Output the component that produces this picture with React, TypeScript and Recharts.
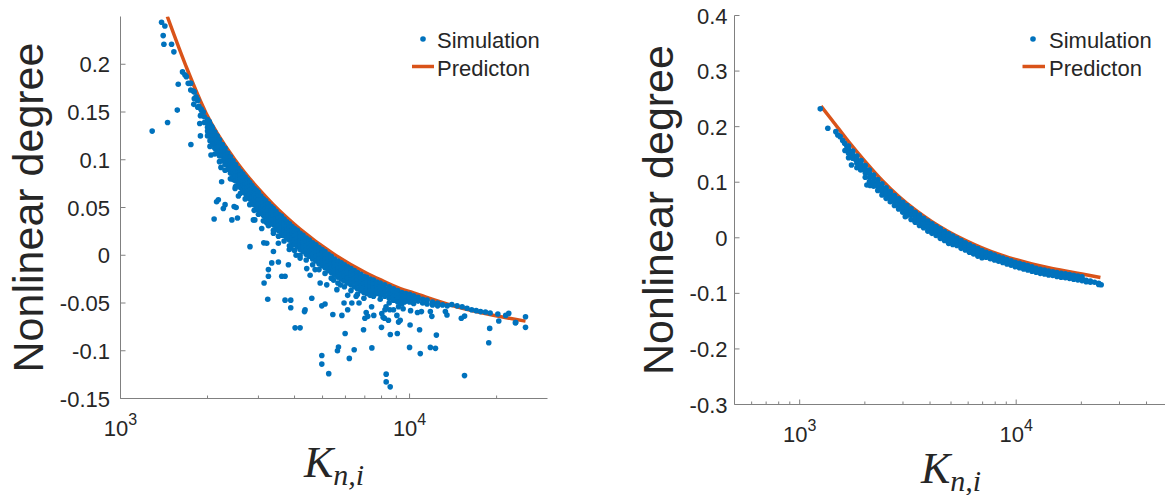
import React from 'react';
import { ComposedChart, Scatter, Line, XAxis, YAxis } from 'recharts';

const BLUE = '#0072BD';
const ORANGE = '#D95319';
const AXIS = '#808080';
const TEXT = '#262626';
const SANS = '"Liberation Sans", Arial, Helvetica, sans-serif';
const SERIF = '"Liberation Serif", "Times New Roman", serif';
const DOT_R = 2.8;

// ---------- left panel ----------
const leftXDomain = [1000, 30000];
const leftYDomain = [-0.15, 0.25];
const leftXMajor = [1000, 10000];
const leftXMinor = [2000, 3000, 4000, 5000, 6000, 7000, 8000, 9000, 20000];
const leftYTicks = [-0.15, -0.1, -0.05, 0, 0.05, 0.1, 0.15, 0.2];

const leftPredK = [1452, 1700, 1975, 2489, 3000, 3380, 4180, 5460, 7110, 7915, 9290, 10330, 13470, 17580, 25180];
const leftPredV = [0.25, 0.195, 0.149, 0.1, 0.0696, 0.0529, 0.0274, 0.0013, -0.0188, -0.0256, -0.035, -0.0395, -0.051, -0.06, -0.069];

// scattered simulation points (K, value)
const leftScatter: [number, number][] = [
  [1287, 0.13], [1387, 0.244], [1424, 0.24], [1405, 0.23], [1413, 0.221], [1455, 0.139], [1502, 0.221],
  [1530, 0.213], [1572, 0.152], [1584, 0.179], [1639, 0.192], [1670, 0.189], [1690, 0.187], [1715, 0.18],
  [1743, 0.18], [1752, 0.116], [1785, 0.172], [1793, 0.158], [1826, 0.166], [1847, 0.163], [1868, 0.156],
  [1880, 0.138], [1890, 0.146], [1890, 0.125], [1905, 0.152], [1934, 0.15], [2010, 0.128], [2028, 0.14],
  [2056, 0.105], [2066, 0.135], [2108, 0.038], [2123, 0.124], [2150, 0.056], [2180, 0.119], [2180, 0.058],
  [2208, 0.114], [2226, 0.092], [2238, 0.077], [2268, 0.049], [2270, 0.109], [2300, 0.053], [2333, 0.103],
  [2396, 0.098], [2428, 0.037], [2460, 0.093], [2460, 0.079], [2472, 0.051], [2492, 0.07], [2512, 0.05],
  [2526, 0.086], [2539, 0.039], [2558, 0.062], [2594, 0.076], [2697, 0.069], [2732, 0.062], [2805, 0.009],
  [2882, 0.055], [2882, 0.037], [2915, 0.037], [2961, 0.048], [3040, 0.044], [3080, 0.028], [3131, 0.013],
  [3138, -0.029], [3205, 0.034], [3205, 0.0125], [3231, -0.046], [3248, -0.015], [3248, -0.022], [3336, -0.008],
  [3381, 0.023], [3381, 0.004], [3517, -0.007], [3517, 0.0125], [3612, 0.021], [3612, -0.022], [3709, -0.022],
  [3709, -0.047], [3809, -0.01], [3836, 0.006], [3881, -0.047], [3881, -0.055], [3890, 0.009], [4018, -0.076],
  [4050, 0.0], [4181, -0.003], [4181, -0.076], [4330, -0.059], [4350, -0.057], [4408, -0.014], [4528, -0.021],
  [4589, -0.045], [4713, -0.015], [4905, -0.029], [4970, -0.053], [4970, -0.105], [4970, -0.114], [5100, -0.051],
  [5170, -0.031], [5252, -0.124], [5427, -0.062], [5458, -0.026], [5605, -0.036], [5630, -0.1], [5676, -0.096],
  [5762, -0.031], [5833, -0.063], [5933, -0.05], [5985, -0.082], [6108, -0.042], [6108, -0.057], [6188, -0.108],
  [6313, -0.05], [6432, -0.099], [6533, -0.043], [6685, -0.05], [6930, -0.078], [7005, -0.066], [7079, -0.06],
  [7170, -0.064], [7390, -0.054], [7405, -0.097], [7520, -0.063], [7995, -0.0755], [8014, -0.061], [8100, -0.065],
  [8130, -0.0364], [8190, -0.066], [8220, -0.057], [8290, -0.054], [8300, -0.1245], [8300, -0.1326], [8450, -0.068],
  [8540, -0.057], [8570, -0.1378], [8576, -0.083], [8640, -0.04], [8800, -0.057], [9040, -0.063], [9070, -0.082],
  [9160, -0.054], [9160, -0.07], [9280, -0.068], [9400, -0.042], [9500, -0.056], [9600, -0.049], [9998, -0.0965],
  [10040, -0.073], [10080, -0.058], [10650, -0.06], [10830, -0.078], [10890, -0.103], [10990, -0.059], [11800, -0.059],
  [11800, -0.0965], [11940, -0.064], [12290, -0.0975], [12380, -0.0836], [13300, -0.059], [13470, -0.0626],
  [15100, -0.066], [15490, -0.126], [15500, -0.0637], [18790, -0.0916], [18930, -0.0766], [20350, -0.0689],
  [22030, -0.0609], [23230, -0.0706], [25180, -0.0644], [25180, -0.0755],
];

// dense band just under the prediction: K, values read at that K
const leftBand: [number, number[]][] = [
  [1750, [0.18, 0.173]], [1800, [0.171, 0.164]], [1850, [0.162, 0.155]], [1900, [0.153, 0.147]], [1950, [0.145, 0.139]],
  [2000, [0.142, 0.138, 0.134, 0.13, 0.125]], [2040, [0.137, 0.133, 0.129, 0.125, 0.12, 0.114]],
  [2080, [0.133, 0.129, 0.125, 0.121, 0.116]], [2120, [0.129, 0.125, 0.121, 0.117, 0.112, 0.106]],
  [2160, [0.125, 0.121, 0.117, 0.113, 0.108]], [2200, [0.121, 0.117, 0.113, 0.109, 0.104, 0.098]],
  [2250, [0.116, 0.112, 0.108, 0.104, 0.099]], [2300, [0.112, 0.108, 0.104, 0.1, 0.095, 0.089]],
  [2350, [0.107, 0.103, 0.099, 0.095, 0.09]], [2400, [0.103, 0.099, 0.095, 0.091, 0.086, 0.08]],
  [2450, [0.099, 0.095, 0.091, 0.087, 0.082]], [2500, [0.095, 0.091, 0.087, 0.083, 0.078, 0.072]],
  [2550, [0.091, 0.087, 0.083, 0.079, 0.074]], [2600, [0.088, 0.084, 0.08, 0.076, 0.071, 0.065]],
  [2650, [0.085, 0.081, 0.077, 0.073, 0.068]], [2700, [0.082, 0.078, 0.074, 0.07, 0.065, 0.059]],
  [2750, [0.079, 0.075, 0.071, 0.067, 0.062]], [2800, [0.076, 0.072, 0.068, 0.064, 0.059, 0.053]],
  [2850, [0.073, 0.069, 0.065, 0.061, 0.056]], [2900, [0.07, 0.066, 0.062, 0.058, 0.053, 0.047]],
  [2950, [0.068, 0.064, 0.06, 0.056, 0.051]], [3000, [0.066, 0.062, 0.058, 0.054, 0.049, 0.043]],
  [3060, [0.062, 0.058, 0.054, 0.05, 0.045]], [3120, [0.059, 0.055, 0.051, 0.047, 0.042, 0.036]],
  [3180, [0.057, 0.053, 0.049, 0.045, 0.04]], [3250, [0.054, 0.05, 0.046, 0.042, 0.037, 0.031]],
  [3320, [0.051, 0.047, 0.043, 0.039, 0.034]], [3380, [0.049, 0.045, 0.041, 0.037, 0.032, 0.026]],
  [3450, [0.046, 0.042, 0.038, 0.034, 0.029]], [3520, [0.043, 0.039, 0.035, 0.031, 0.026, 0.02]],
  [3600, [0.041, 0.037, 0.033, 0.029, 0.024]], [3680, [0.038, 0.034, 0.03, 0.026, 0.021, 0.015]],
  [3760, [0.035, 0.031, 0.027, 0.023, 0.018]], [3840, [0.033, 0.029, 0.025, 0.021, 0.016, 0.01]],
  [3920, [0.03, 0.026, 0.022, 0.018, 0.013]], [4000, [0.028, 0.024, 0.02, 0.016, 0.011, 0.005]],
  [4090, [0.026, 0.022, 0.018, 0.014, 0.009]], [4180, [0.023, 0.019, 0.015, 0.011, 0.006, 0.0]],
  [4280, [0.021, 0.017, 0.013, 0.009, 0.004]], [4390, [0.018, 0.014, 0.01, 0.006, 0.001, -0.005]],
  [4500, [0.016, 0.012, 0.008, 0.004, -0.001]], [4620, [0.013, 0.009, 0.005, 0.001, -0.004, -0.01]],
  [4740, [0.011, 0.007, 0.003, -0.001, -0.006]], [4860, [0.008, 0.004, 0.0, -0.004, -0.009, -0.015]],
  [4980, [0.006, 0.002, -0.002, -0.006, -0.011]], [5100, [0.004, 0.0, -0.004, -0.008, -0.013, -0.019]],
  [5230, [0.001, -0.003, -0.007, -0.011, -0.016]], [5360, [-0.001, -0.005, -0.009, -0.013, -0.018, -0.024]],
  [5500, [-0.004, -0.008, -0.012, -0.016, -0.021]], [5650, [-0.006, -0.01, -0.014, -0.018, -0.023, -0.029]],
  [5800, [-0.008, -0.012, -0.016, -0.02, -0.025]], [5950, [-0.01, -0.014, -0.018, -0.022, -0.027, -0.033]],
  [6100, [-0.012, -0.016, -0.02, -0.024, -0.029]], [6270, [-0.014, -0.018, -0.022, -0.026, -0.031, -0.037]],
  [6440, [-0.016, -0.02, -0.024, -0.028, -0.033]], [6600, [-0.018, -0.022, -0.026, -0.03, -0.035, -0.041]],
  [6780, [-0.02, -0.024, -0.028, -0.032, -0.037]], [6950, [-0.022, -0.026, -0.03, -0.034, -0.039, -0.045]],
  [7110, [-0.023, -0.027, -0.031, -0.035, -0.04]], [7300, [-0.025, -0.029, -0.033, -0.037, -0.042]],
  [7500, [-0.026, -0.03, -0.034, -0.038, -0.043]], [7700, [-0.028, -0.032, -0.036, -0.04]],
  [7915, [-0.029, -0.033, -0.037, -0.041, -0.046]], [8200, [-0.031, -0.035, -0.039, -0.043]],
  [8500, [-0.033, -0.037, -0.041, -0.045, -0.05]], [8800, [-0.035, -0.039, -0.043, -0.047]],
  [9100, [-0.037, -0.041, -0.045, -0.049]], [9400, [-0.039, -0.043, -0.047, -0.051]],
  [9700, [-0.04, -0.044, -0.048]], [10000, [-0.041, -0.045, -0.049]], [10330, [-0.0425, -0.0465, -0.0505]],
  [10700, [-0.044, -0.048]], [11100, [-0.046, -0.05]], [11500, [-0.047, -0.051]], [12000, [-0.049, -0.052]],
  [12500, [-0.05, -0.053]], [13000, [-0.052]], [13500, [-0.053]], [14000, [-0.0515]], [14600, [-0.053]],
  [15200, [-0.054]], [15800, [-0.0555]], [16400, [-0.057]], [17000, [-0.058]], [17600, [-0.059]],
  [18300, [-0.0595]], [19000, [-0.0605]], [20200, [-0.0615]], [21500, [-0.063]], [23300, [-0.0705]],
];

// ---------- right panel ----------
const rightXDomain = [500, 50000];
const rightYDomain = [-0.3, 0.4];
const rightXMajor = [1000, 10000];
const rightXMinor = [600, 700, 800, 900, 2000, 3000, 4000, 5000, 6000, 7000, 8000, 9000, 20000, 30000, 40000];
const rightYTicks = [-0.3, -0.2, -0.1, 0, 0.1, 0.2, 0.3, 0.4];

const rightPredK = [1255, 1409, 1682, 2009, 2399, 2864, 3420, 4083, 4875, 5821, 6950, 8298, 9900, 11830, 14120, 16870, 20140, 24500];
const rightPredV = [0.237, 0.212, 0.173, 0.137, 0.1035, 0.0745, 0.05, 0.029, 0.011, -0.0045, -0.018, -0.0295, -0.039, -0.047, -0.0538, -0.0598, -0.0653, -0.0713];

const rightScatter: [number, number][] = [
  [1245, 0.232], [1349, 0.197], [1469, 0.191], [1500, 0.185], [1539, 0.182], [1580, 0.175], [1613, 0.17],
  [1619, 0.157], [1650, 0.165], [1701, 0.152], [1735, 0.131], [1760, 0.146], [1820, 0.14], [1885, 0.131],
  [1914, 0.122], [2044, 0.095], [2117, 0.094], [3075, 0.038], [3420, 0.029], [24700, -0.0846],
];

const rightBand: [number, number[]][] = [
  [1682, [0.165, 0.159, 0.152, 0.144]], [1758, [0.156, 0.15, 0.143]], [1838, [0.147, 0.141, 0.134, 0.126]],
  [1921, [0.139, 0.133, 0.126]], [2009, [0.13, 0.124, 0.117, 0.109]], [2100, [0.122, 0.116, 0.109, 0.101]],
  [2195, [0.113, 0.107, 0.1, 0.093]], [2295, [0.105, 0.099, 0.092, 0.085]], [2399, [0.097, 0.091, 0.084, 0.077]],
  [2508, [0.09, 0.085, 0.079, 0.071]], [2621, [0.083, 0.078, 0.072, 0.065]], [2740, [0.076, 0.071, 0.065, 0.058]],
  [2864, [0.07, 0.065, 0.059, 0.052]], [2994, [0.064, 0.059, 0.053, 0.046]], [3129, [0.058, 0.053, 0.047, 0.04]],
  [3271, [0.052, 0.047, 0.041, 0.033]], [3420, [0.046, 0.041, 0.035, 0.028]], [3575, [0.041, 0.036, 0.03, 0.022]],
  [3737, [0.035, 0.031, 0.025, 0.018]], [3906, [0.03, 0.025, 0.019, 0.012]], [4083, [0.025, 0.02, 0.014, 0.008]],
  [4268, [0.02, 0.016, 0.01, 0.004]], [4462, [0.016, 0.011, 0.005, -0.001]], [4664, [0.011, 0.007, 0.001, -0.005]],
  [4875, [0.007, 0.002, -0.004, -0.01]], [5096, [0.003, -0.001, -0.006, -0.012]], [5327, [-0.001, -0.005, -0.01, -0.014]],
  [5569, [-0.005, -0.009, -0.014, -0.019]], [5821, [-0.009, -0.013, -0.018, -0.022]],
  [6085, [-0.0125, -0.0165, -0.0215, -0.026]], [6360, [-0.016, -0.02, -0.025, -0.029]],
  [6649, [-0.0195, -0.0235, -0.0285, -0.033]], [6950, [-0.023, -0.027, -0.032, -0.036]],
  [7265, [-0.026, -0.03, -0.035]], [7594, [-0.0285, -0.0325, -0.0375]], [7938, [-0.031, -0.035, -0.04]],
  [8298, [-0.034, -0.038, -0.042]], [8674, [-0.0365, -0.0405, -0.0445]], [9067, [-0.039, -0.043, -0.047]],
  [9478, [-0.0415, -0.0455, -0.0495]], [9900, [-0.044, -0.048, -0.052]], [10350, [-0.046, -0.05, -0.054]],
  [10820, [-0.048, -0.052, -0.056]], [11310, [-0.05, -0.054, -0.058]], [11830, [-0.052, -0.056, -0.06]],
  [12360, [-0.055, -0.059, -0.062]], [12920, [-0.0565, -0.0605, -0.064]], [13510, [-0.058, -0.062, -0.065]],
  [14120, [-0.06, -0.064, -0.067]], [14760, [-0.061, -0.065, -0.068]], [15430, [-0.0625, -0.0665, -0.0695]],
  [16130, [-0.064, -0.068, -0.071]], [16870, [-0.065, -0.069, -0.072]], [17630, [-0.066, -0.07, -0.073]],
  [18430, [-0.0675, -0.0715, -0.0745]], [19270, [-0.069, -0.073, -0.076]], [20140, [-0.07, -0.074, -0.077]],
  [21050, [-0.0765, -0.079]], [22010, [-0.078, -0.08]], [23010, [-0.08]], [24050, [-0.082, -0.084]],
];

const toPts = (list: [number, number][], band: [number, number[]][]) => [
  ...list.map(([k, v]) => ({ k, v })),
  ...band.flatMap(([k, vs]) => vs.map((v) => ({ k, v }))),
];
const leftSim = toPts(leftScatter, leftBand);
const rightSim = toPts(rightScatter, rightBand);
const leftPred = leftPredK.map((k, i) => ({ k, v: leftPredV[i] }));
const rightPred = rightPredK.map((k, i) => ({ k, v: rightPredV[i] }));

// ---------- tick renderers (MATLAB style, ticks point inward) ----------
const bottomTick = (majors: number[]) => (p: any) => {
  const major = majors.includes(p.payload.value);
  return (
    <g>
      <line x1={p.x} y1={p.y} x2={p.x} y2={p.y - (major ? 5 : 3)} stroke={AXIS} />
      {major && (
        <text x={p.x} y={p.y + 37.5} textAnchor="middle" fontFamily={SANS} fontSize={22} fill={TEXT}>
          10
          <tspan dy={-11.5} fontSize={16}>
            {Math.round(Math.log10(p.payload.value))}
          </tspan>
        </text>
      )}
    </g>
  );
};

const topTick = (majors: number[]) => (p: any) => {
  const major = majors.includes(p.payload.value);
  return <line x1={p.x} y1={p.y} x2={p.x} y2={p.y + (major ? 5 : 3)} stroke={AXIS} />;
};

const leftTick = (gap: number) => (p: any) => (
  <g>
    <line x1={p.x} y1={p.y} x2={p.x + 5} y2={p.y} stroke={AXIS} />
    <text x={p.x - gap} y={p.y + 8} textAnchor="end" fontFamily={SANS} fontSize={22} fill={TEXT}>
      {String(p.payload.value)}
    </text>
  </g>
);

const rightTick = (p: any) => <line x1={p.x} y1={p.y} x2={p.x - 5} y2={p.y} stroke={AXIS} />;

const yLabel = (fromRight: number) => (p: any) => {
  const vb = p.viewBox;
  const x = vb.x + vb.width - fromRight;
  const y = vb.y + vb.height / 2;
  return (
    <text x={x} y={y} transform={`rotate(-90 ${x} ${y})`} textAnchor="middle" fontFamily={SANS} fontSize={43} fill={TEXT}>
      Nonlinear degree
    </text>
  );
};

const xLabel = (p: any) => {
  const vb = p.viewBox;
  return (
    <text x={vb.x + vb.width / 2} y={vb.y + 78} textAnchor="middle" fontFamily={SERIF} fontStyle="italic" fontSize={44} fill={TEXT}>
      K
      <tspan fontSize={30} dy={8}>
        n,i
      </tspan>
    </text>
  );
};

const dot = (p: any) => <circle cx={p.cx} cy={p.cy} r={DOT_R} fill={BLUE} />;

interface PanelProps {
  width: number;
  top: number;
  yAxisWidth: number;
  xAxisHeight: number;
  xDomain: number[];
  yDomain: number[];
  xMajor: number[];
  xMinor: number[];
  yTicks: number[];
  labelGap: number;
  yLabelOffset: number;
  sim: { k: number; v: number }[];
  pred: { k: number; v: number }[];
}

function Panel(props: PanelProps) {
  const xTicks = [...props.xMajor, ...props.xMinor].sort((a, b) => a - b);
  return (
    <ComposedChart
      width={props.width}
      height={495}
      margin={{ top: props.top, right: 12.5, bottom: 0, left: 0 }}
    >
      <XAxis
        dataKey="k"
        type="number"
        scale="log"
        domain={props.xDomain}
        allowDataOverflow
        ticks={xTicks}
        interval={0}
        tickSize={0}
        tickMargin={0}
        tickLine={false}
        tick={bottomTick(props.xMajor)}
        height={props.xAxisHeight}
        axisLine={{ stroke: AXIS }}
        label={xLabel}
      />
      <XAxis
        xAxisId="top"
        orientation="top"
        type="number"
        scale="log"
        domain={props.xDomain}
        allowDataOverflow
        ticks={xTicks}
        interval={0}
        tickSize={0}
        tickMargin={0}
        tickLine={false}
        tick={topTick(props.xMajor)}
        height={0}
        axisLine={{ stroke: AXIS }}
      />
      <YAxis
        dataKey="v"
        type="number"
        domain={props.yDomain}
        allowDataOverflow
        ticks={props.yTicks}
        interval={0}
        tickSize={0}
        tickMargin={0}
        tickLine={false}
        tick={leftTick(props.labelGap)}
        width={props.yAxisWidth}
        axisLine={{ stroke: AXIS }}
        label={yLabel(props.yLabelOffset)}
      />
      <YAxis
        yAxisId="right"
        orientation="right"
        type="number"
        domain={props.yDomain}
        allowDataOverflow
        ticks={props.yTicks}
        interval={0}
        tickSize={0}
        tickMargin={0}
        tickLine={false}
        tick={rightTick}
        width={0}
        axisLine={{ stroke: AXIS }}
      />
      <Scatter data={props.sim} shape={dot} isAnimationActive={false} />
      <Line
        data={props.pred}
        dataKey="v"
        type="monotone"
        stroke={ORANGE}
        strokeWidth={3.5}
        dot={false}
        activeDot={false}
        isAnimationActive={false}
      />
    </ComposedChart>
  );
}

function LegendBox({ dotX, lineX1, lineX2, textX }: { dotX: number; lineX1: number; lineX2: number; textX: number }) {
  return (
    <g fontFamily={SANS} fontSize={22} fill={TEXT}>
      <circle cx={dotX} cy={39} r={DOT_R} fill={BLUE} />
      <text x={textX} y={48}>Simulation</text>
      <line x1={lineX1} y1={66.5} x2={lineX2} y2={66.5} stroke={ORANGE} strokeWidth={3.5} />
      <text x={textX} y={76}>Predicton</text>
    </g>
  );
}

export default function App() {
  return (
    <div
      style={{
        position: 'absolute',
        left: 0,
        top: 0,
        width: 1165,
        height: 495,
        overflow: 'hidden',
        background: '#fff',
      }}
    >
      <div style={{ position: 'absolute', left: 0, top: 0 }}>
        <Panel
          width={560}
          top={16.5}
          yAxisWidth={120.5}
          xAxisHeight={96.5}
          xDomain={leftXDomain}
          yDomain={leftYDomain}
          xMajor={leftXMajor}
          xMinor={leftXMinor}
          yTicks={leftYTicks}
          labelGap={10.5}
          yLabelOffset={77.2}
          sim={leftSim}
          pred={leftPred}
        />
      </div>
      <div style={{ position: 'absolute', left: 580, top: 0 }}>
        <Panel
          width={600}
          top={15.5}
          yAxisWidth={154.5}
          xAxisHeight={90.5}
          xDomain={rightXDomain}
          yDomain={rightYDomain}
          xMajor={rightXMajor}
          xMinor={rightXMinor}
          yTicks={rightYTicks}
          labelGap={7}
          yLabelOffset={61.5}
          sim={rightSim}
          pred={rightPred}
        />
      </div>
      <svg width={1165} height={495} style={{ position: 'absolute', left: 0, top: 0, pointerEvents: 'none' }}>
        <LegendBox dotX={423} lineX1={412} lineX2={434} textX={437} />
        <LegendBox dotX={1033} lineX1={1022.5} lineX2={1045} textX={1049} />
      </svg>
    </div>
  );
}
